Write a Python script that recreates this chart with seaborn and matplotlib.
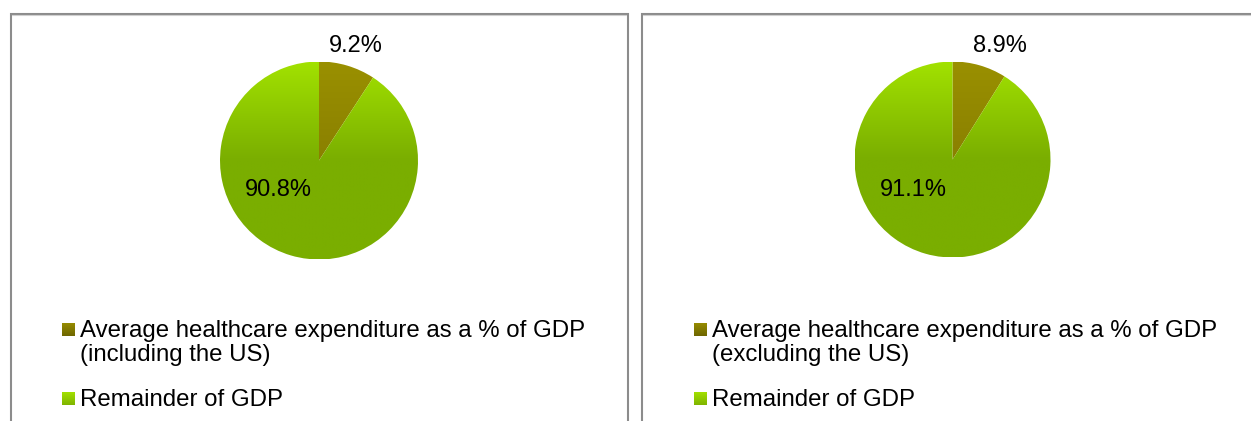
import numpy as np
import matplotlib
matplotlib.use("Agg")
import matplotlib.pyplot as plt
import seaborn as sns
from matplotlib.lines import Line2D
from matplotlib.patches import Rectangle
from matplotlib.colors import to_rgb

# ---------------- data ----------------
categories_left = ["Average healthcare expenditure as a % of GDP\n(including the US)", "Remainder of GDP"]
categories_right = ["Average healthcare expenditure as a % of GDP\n(excluding the US)", "Remainder of GDP"]
values_left = [9.2, 90.8]
values_right = [8.9, 91.1]

# ---------------- style ----------------
sns.set_theme(style="white")
plt.rcParams['font.family'] = ['Liberation Sans', 'DejaVu Sans']
FS = 17
FS_LEG = 17.3

base_colors = ["#7a7000", "#7aae00"]
top_colors = ["#9a9000", "#a2e200"]
grad_span = [1.0, 0.5]          # fraction of radius (from top) over which gradient blends
legend_top = ["#968c00", "#a2e000"]
legend_bot = ["#6e6600", "#7fb400"]

W, H = 1251, 421
fig = plt.figure(figsize=(W / 100, H / 100), dpi=100)
fig.patch.set_facecolor("white")


def fx(x):
    return x / W


def fy(y):
    return 1 - y / H


def grad_img(c0, c1, n=200):
    t = np.linspace(0, 1, n)[:, None]
    a, b = np.array(to_rgb(c0)), np.array(to_rgb(c1))
    return np.repeat((a * (1 - t) + b * t)[:, None, :], 2, axis=1)


def draw_panel(x0, x1, pie_c, pie_r, values, labels, label_pos, leg_x):
    # panel border (open at the bottom)
    fig.add_artist(Line2D([fx(x0), fx(x0), fx(x1), fx(x1)],
                          [fy(H + 5), fy(13.5), fy(13.5), fy(H + 5)],
                          transform=fig.transFigure, color="#8c8c8c", lw=1.5,
                          solid_joinstyle="miter"))
    fig.add_artist(Line2D([fx(x0 + 1.5), fx(x1 - 1.5)], [fy(15.2), fy(15.2)],
                          transform=fig.transFigure, color="#d0d0d0", lw=0.8))

    cx, cy = pie_c
    ax = fig.add_axes([fx(cx - pie_r), fy(cy + pie_r), 2 * pie_r / W, 2 * pie_r / H])
    wedges, _ = ax.pie(values, colors=base_colors, startangle=90, counterclock=False,
                       radius=1, wedgeprops=dict(linewidth=0))
    yy = np.linspace(1, -1, 400)
    for w, c0, c1, span in zip(wedges, top_colors, base_colors, grad_span):
        t = np.clip((1 - yy) / (2 * span), 0, 1)[:, None]
        a, b = np.array(to_rgb(c0)), np.array(to_rgb(c1))
        img = (a * (1 - t) + b * t)[:, None, :]
        img = np.repeat(img, 2, axis=1)
        im = ax.imshow(img, extent=[-1, 1, -1, 1], origin="upper", aspect="auto",
                       zorder=w.get_zorder(), interpolation="bilinear")
        im.set_clip_path(w)
        w.set_facecolor("none")
    for v, (px, py) in zip(values, label_pos):
        ax.text(px, py, f"{v:.1f}%", ha="center", va="center", fontsize=FS,
                color="black", clip_on=False)
    ax.set_xlim(-1, 1)
    ax.set_ylim(-1, 1)
    ax.axis("off")

    # legend
    baselines = [337, 406]
    for lab, ct, cb, yb in zip(labels, legend_top, legend_bot, baselines):
        lax = fig.add_axes([fx(leg_x), fy(yb - 1), 13 / W, 13 / H])
        lax.imshow(grad_img(ct, cb), aspect="auto", interpolation="bilinear")
        lax.axis("off")
        for i, line in enumerate(lab.split("\n")):
            fig.text(fx(leg_x + 18), fy(yb + i * 24), line, fontsize=FS_LEG,
                     ha="left", va="baseline", color="black")


draw_panel(10.5, 627.5, (319, 160.5), 99, values_left, categories_left,
           [(0.37, 1.16), (-0.41, -0.30)], 62)
draw_panel(641.5, 1260, (952.5, 159.5), 98, values_right, categories_right,
           [(0.48, 1.16), (-0.40, -0.31)], 694)

fig.savefig("out.png", dpi=100, facecolor="white")
